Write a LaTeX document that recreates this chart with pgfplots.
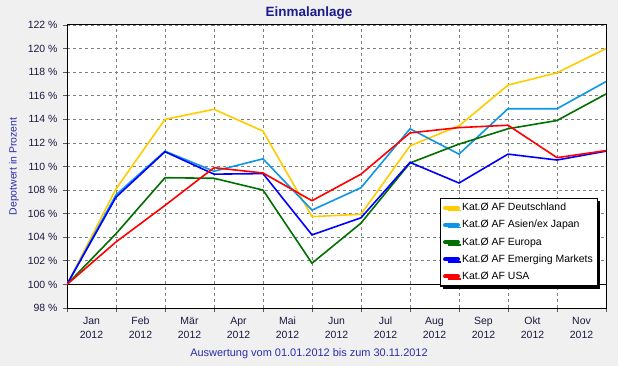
\documentclass[border=0pt]{standalone}
\usepackage{fontspec}
\setmainfont{Liberation Sans}
\usepackage{pgfplots}
\pgfplotsset{compat=1.18}
\usetikzlibrary{shadows}
\definecolor{cDE}{HTML}{FFCC00}
\definecolor{cAS}{HTML}{0E96E6}
\definecolor{cEU}{HTML}{007000}
\definecolor{cEM}{HTML}{0000FF}
\definecolor{cUS}{HTML}{FF0000}
\definecolor{bg}{HTML}{F0F0F0}
\definecolor{titlec}{HTML}{1C1C8C}
\definecolor{labc}{HTML}{2B2BB0}
\definecolor{tickc}{HTML}{1A1A40}
\begin{document}
\begin{tikzpicture}[x=1bp,y=1bp]
\path[use as bounding box, fill=bg] (-67,-58) rectangle (551,308);
\begin{axis}[
  at={(0,0)}, anchor=south west,
  scale only axis, width=539bp, height=283bp,
  xmin=0, xmax=11, ymin=98, ymax=122,
  axis background/.style={fill=white},
  axis line style={black, line width=1bp},
  font=\fontsize{10.5}{14}\selectfont,
  tick label style={text=tickc},
  /pgf/number format/assume math mode=true,
  ytick={98,100,...,122},
  yticklabel={\pgfmathprintnumber{\tick}\ \%},
  yticklabel style={xshift=-2bp},
  xtick={0,...,11},
  x tick label as interval,
  xticklabels={\strut Jan\\2012,\strut Feb\\2012,\strut Mär\\2012,\strut Apr\\2012,\strut Mai\\2012,\strut Jun\\2012,\strut Jul\\2012,\strut Aug\\2012,\strut Sep\\2012,\strut Okt\\2012,\strut Nov\\2012},
  xticklabel style={align=center, anchor=north, yshift=1bp},
  xtick pos=bottom, ytick pos=left, tick align=outside, major tick length=4bp,
  tick style={gray!70!black, line width=0.8bp},
  grid=major,
  major grid style={gray, dashed, line width=0.8bp, dash pattern=on 3bp off 3bp},
  extra y ticks={100}, extra y tick labels={},
  extra y tick style={grid=major, major grid style={black, solid, line width=1bp}},
  legend style={at={(0.985,0.389)}, anchor=north east, draw=black, line width=1.2bp, fill=white,
    drop shadow={shadow xshift=2.5bp, shadow yshift=-2.5bp, fill=black, opacity=1},
    font=\fontsize{10.5}{12}\selectfont, row sep=0pt, inner xsep=2.5bp, inner ysep=1bp,
    nodes={text height=8bp, text depth=2.5bp, inner ysep=3.3bp, inner xsep=2bp}},
  legend cell align=left,
  legend image code/.code={\draw[line width=4bp, line cap=round] (0bp,0bp) -- (13bp,0bp);},
]
\addplot[cDE, line width=1.6bp] coordinates {(0,100)(1,108.1)(2,114.0)(3,114.85)(4,113.0)(5,105.75)(6,105.95)(7,111.75)(8,113.45)(9,116.9)(10,117.95)(11,120.0)};
\addlegendentry{Kat.Ø AF Deutschland}
\addplot[cAS, line width=1.6bp] coordinates {(0,100)(1,107.6)(2,111.3)(3,109.6)(4,110.65)(5,106.3)(6,108.2)(7,113.2)(8,111.05)(9,114.9)(10,114.9)(11,117.2)};
\addlegendentry{Kat.Ø AF Asien/ex Japan}
\addplot[cEU, line width=1.6bp] coordinates {(0,100)(1,104.3)(2,109.05)(3,109.0)(4,108.0)(5,101.8)(6,105.2)(7,110.3)(8,111.9)(9,113.2)(10,113.9)(11,116.15)};
\addlegendentry{Kat.Ø AF Europa}
\addplot[cEM, line width=1.6bp] coordinates {(0,100)(1,107.4)(2,111.25)(3,109.35)(4,109.4)(5,104.2)(6,105.65)(7,110.35)(8,108.6)(9,111.05)(10,110.55)(11,111.3)};
\addlegendentry{Kat.Ø AF Emerging Markets}
\addplot[cUS, line width=1.6bp] coordinates {(0,100)(1,103.6)(2,106.7)(3,109.9)(4,109.45)(5,107.1)(6,109.35)(7,112.85)(8,113.3)(9,113.5)(10,110.75)(11,111.35)};
\addlegendentry{Kat.Ø AF USA}
\end{axis}
\node[font=\bfseries\fontsize{13.5}{15}\selectfont, text=titlec] at (242,295) {Einmalanlage};
\node[font=\fontsize{10.5}{12}\selectfont, text=labc, rotate=90] at (-53,141.5) {Depotwert in Prozent};
\node[font=\fontsize{11}{12}\selectfont, text=labc] at (242,-46) {Auswertung vom 01.01.2012 bis zum 30.11.2012};
\end{tikzpicture}
\end{document}
